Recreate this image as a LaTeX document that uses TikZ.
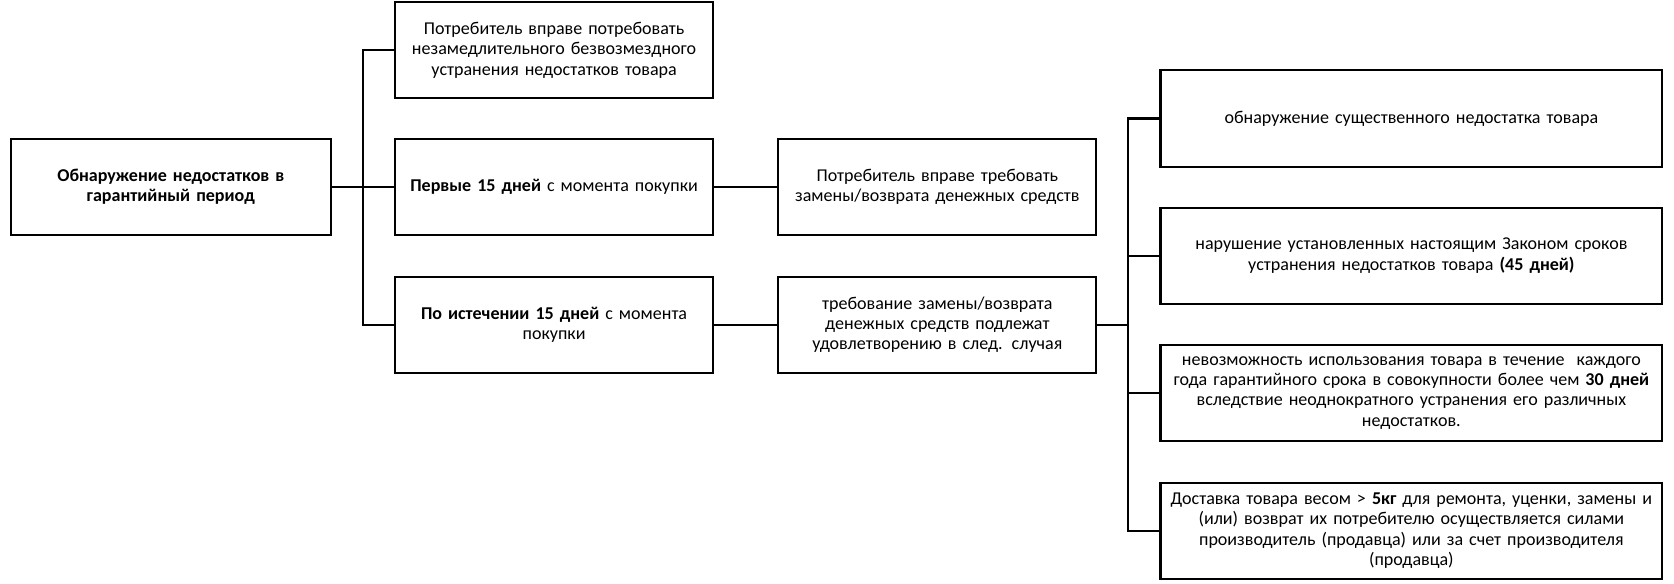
\documentclass[tikz,border=0pt]{standalone}
\usepackage{fontspec}
\setmainfont{Carlito}
\begin{document}
\begin{tikzpicture}[x=1pt,y=-1pt,
  box/.style={draw=black,line width=1.9pt,align=center,inner sep=2pt,
    minimum height=90pt,font=\fontsize{16.9}{19}\selectfont},
  bw/.style={box,minimum width=298pt,text width=292pt},
  dw/.style={box,minimum width=470pt,text width=464pt},
  conn/.style={draw=black,line width=1.9pt}]
\useasboundingbox (0,0) rectangle (1568,547);
\node[box,minimum width=300pt,text width=292pt] (A) at (160,175) {\textbf{Обнаружение недостатков в}\\\textbf{гарантийный период}};
\node[bw] (B1) at (519,47) {Потребитель вправе потребовать\\незамедлительного безвозмездного\\устранения недостатков товара};
\node[bw] (B2) at (519,175) {\textbf{Первые 15 дней} с момента покупки};
\node[bw] (B3) at (519,304) {\textbf{По истечении 15 дней} с момента\\покупки};
\node[bw] (C1) at (878,175) {Потребитель вправе требовать\\замены/возврата денежных средств};
\node[bw] (C2) at (878,304) {требование замены/возврата\\денежных средств подлежат\\удовлетворению в след. случая};
\node[dw] (D1) at (1322,111) {обнаружение существенного недостатка товара};
\node[dw] (D2) at (1322,239.5) {нарушение установленных настоящим Законом сроков\\устранения недостатков товара \textbf{(45 дней)}};
\node[dw] (D3) at (1322,368) {невозможность использования товара в течение~ каждого\\года гарантийного срока в совокупности более чем \textbf{30 дней}\\вследствие неоднократного устранения его различных\\недостатков.};
\node[dw] (D4) at (1322,497) {Доставка товара весом > \textbf{5кг} для ремонта, уценки, замены и\\(или) возврат их потребителю осуществляется силами\\производитель (продавца) или за счет производителя\\(продавца)};
\coordinate (j1) at (340,175);
\coordinate (j2) at (1057,304);
\draw[conn] (A.east) -- (j1);
\draw[conn] (j1) |- (B1.west);
\draw[conn] (j1) -- (B2.west);
\draw[conn] (j1) |- (B3.west);
\draw[conn] (B2.east) -- (C1.west);
\draw[conn] (B3.east) -- (C2.west);
\draw[conn] (C2.east) -- (j2);
\draw[conn] (j2) |- (D1.west);
\draw[conn] (j2) |- (D2.west);
\draw[conn] (j2) |- (D3.west);
\draw[conn] (j2) |- (D4.west);
\end{tikzpicture}
\end{document}
